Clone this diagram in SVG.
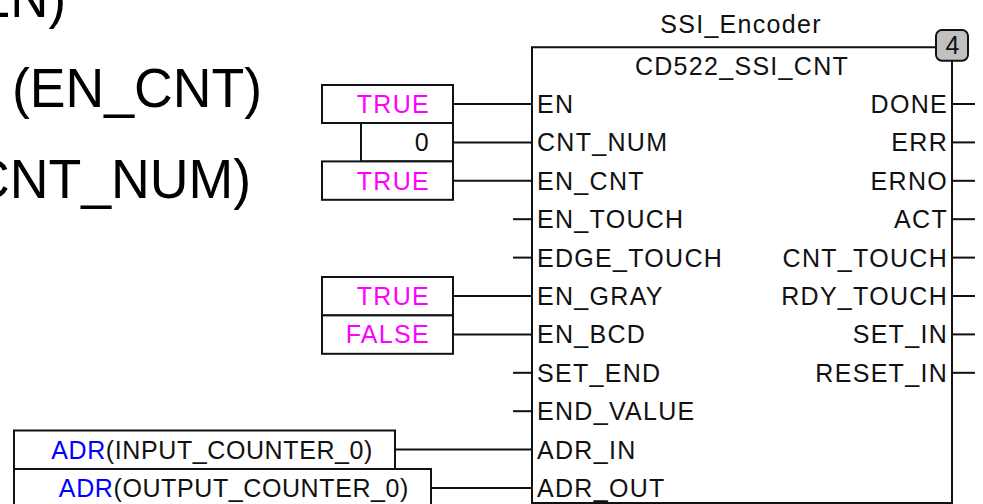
<svg xmlns="http://www.w3.org/2000/svg" width="983" height="504" viewBox="0 0 983 504">
<style>
.big{font-family:"Liberation Sans",Arial,sans-serif;font-size:56px;fill:#000}
.lbl{font-family:"Liberation Sans",Arial,sans-serif;font-size:25px;letter-spacing:1.3px;fill:#111}
.end{text-anchor:end}
.mid{text-anchor:middle}
.kw{fill:#ff00ff}
.adr{fill:#0000ff}
.ln{stroke:#111;stroke-width:2;fill:none}
.box{stroke:#111;stroke-width:2;fill:#fff}
</style>
<rect width="983" height="504" fill="#fff"/>
<g id="slide-text">
<text class="big end" x="66" y="16.5" textLength="91" lengthAdjust="spacingAndGlyphs">EN)</text>
<text class="big end" x="262" y="107" textLength="250" lengthAdjust="spacingAndGlyphs">(EN_CNT)</text>
<text class="big end" x="251" y="198" textLength="280" lengthAdjust="spacingAndGlyphs">CNT_NUM)</text>
</g>
<g id="connectors">
<line class="ln" x1="453" y1="104" x2="532" y2="104"/>
<line class="ln" x1="453" y1="142.4" x2="532" y2="142.4"/>
<line class="ln" x1="453" y1="180.8" x2="532" y2="180.8"/>
<line class="ln" x1="513" y1="219.2" x2="532" y2="219.2"/>
<line class="ln" x1="513" y1="257.6" x2="532" y2="257.6"/>
<line class="ln" x1="453" y1="296" x2="532" y2="296"/>
<line class="ln" x1="453" y1="334.4" x2="532" y2="334.4"/>
<line class="ln" x1="513" y1="372.8" x2="532" y2="372.8"/>
<line class="ln" x1="513" y1="411.2" x2="532" y2="411.2"/>
<line class="ln" x1="395" y1="449.6" x2="532" y2="449.6"/>
<line class="ln" x1="431" y1="488" x2="532" y2="488"/>
<line class="ln" x1="952" y1="104" x2="975" y2="104"/>
<line class="ln" x1="952" y1="142.4" x2="975" y2="142.4"/>
<line class="ln" x1="952" y1="180.8" x2="975" y2="180.8"/>
<line class="ln" x1="952" y1="219.2" x2="975" y2="219.2"/>
<line class="ln" x1="952" y1="257.6" x2="975" y2="257.6"/>
<line class="ln" x1="952" y1="296" x2="975" y2="296"/>
<line class="ln" x1="952" y1="334.4" x2="975" y2="334.4"/>
<line class="ln" x1="952" y1="372.8" x2="975" y2="372.8"/>
</g>
<g id="in-en">
<rect class="box" x="322" y="85" width="131" height="38"/>
<text class="lbl end kw" x="430" y="113">TRUE</text>
</g>
<g id="in-cnt-num">
<rect class="box" x="361" y="123" width="92" height="38.4"/>
<text class="lbl end" x="430" y="151.4">0</text>
</g>
<g id="in-en-cnt">
<rect class="box" x="322" y="161.4" width="131" height="38.4"/>
<text class="lbl end kw" x="430" y="189.8">TRUE</text>
</g>
<g id="in-en-gray">
<rect class="box" x="322" y="277" width="131" height="38.4"/>
<text class="lbl end kw" x="430" y="305">TRUE</text>
</g>
<g id="in-en-bcd">
<rect class="box" x="322" y="315.4" width="131" height="38.4"/>
<text class="lbl end kw" x="430" y="343.4">FALSE</text>
</g>
<g id="in-adr-in">
<rect class="box" x="14" y="430.5" width="381" height="38.5"/>
<text class="lbl end" x="373" y="458.6" style="letter-spacing:0.6px"><tspan class="adr">ADR</tspan>(INPUT_COUNTER_0)</text>
</g>
<g id="in-adr-out">
<rect class="box" x="14" y="469" width="417" height="40"/>
<text class="lbl end" x="409" y="497" style="letter-spacing:0.6px"><tspan class="adr">ADR</tspan>(OUTPUT_COUNTER_0)</text>
</g>
<g id="block-ssi-encoder">
<path class="ln" d="M532,504 V47.3 H936 M952,61 V504"/>
<line class="ln" x1="532" y1="503" x2="952" y2="503"/>
<rect x="936" y="30" width="32" height="30.7" rx="6" fill="#c0c0c0" stroke="#111" stroke-width="2"/>
<text class="lbl mid" x="952.5" y="54" style="letter-spacing:0">4</text>
<text class="lbl mid" x="741" y="33">SSI_Encoder</text>
<text class="lbl mid" x="742" y="75">CD522_SSI_CNT</text>
<text class="lbl" x="537" y="113">EN</text>
<text class="lbl" x="537" y="151.4">CNT_NUM</text>
<text class="lbl" x="537" y="189.8">EN_CNT</text>
<text class="lbl" x="537" y="228.2">EN_TOUCH</text>
<text class="lbl" x="537" y="266.6">EDGE_TOUCH</text>
<text class="lbl" x="537" y="305">EN_GRAY</text>
<text class="lbl" x="537" y="343.4">EN_BCD</text>
<text class="lbl" x="537" y="381.8">SET_END</text>
<text class="lbl" x="537" y="420.2">END_VALUE</text>
<text class="lbl" x="537" y="458.6">ADR_IN</text>
<text class="lbl" x="537" y="497">ADR_OUT</text>
<text class="lbl end" x="948" y="113">DONE</text>
<text class="lbl end" x="948" y="151.4">ERR</text>
<text class="lbl end" x="948" y="189.8">ERNO</text>
<text class="lbl end" x="948" y="228.2">ACT</text>
<text class="lbl end" x="948" y="266.6">CNT_TOUCH</text>
<text class="lbl end" x="948" y="305">RDY_TOUCH</text>
<text class="lbl end" x="948" y="343.4">SET_IN</text>
<text class="lbl end" x="948" y="381.8">RESET_IN</text>
</g>
</svg>
